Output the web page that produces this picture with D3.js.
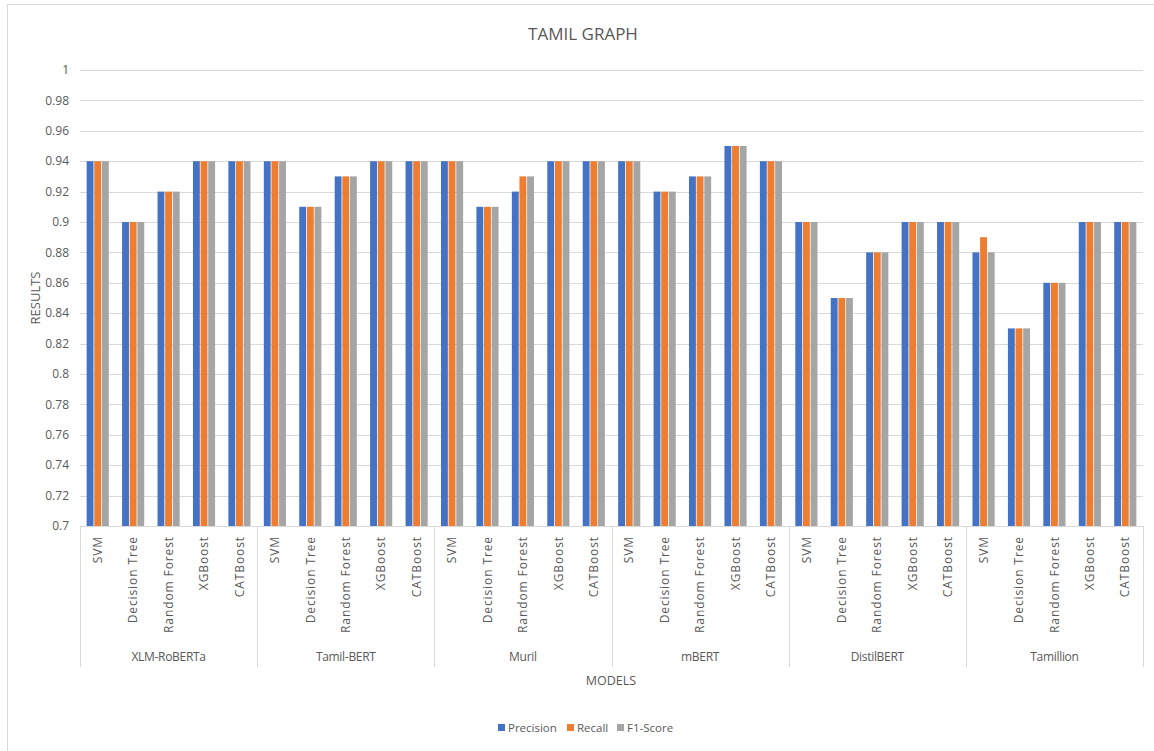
<!DOCTYPE html>
<html><head><meta charset="utf-8">
<script src="https://cdn.jsdelivr.net/npm/d3@7"></script>
<style>
html,body{margin:0;padding:0;background:#fff;}
text{font-family:"Open Sans",sans-serif;fill:#595959;}
</style></head>
<body>
<svg id="chart" width="1154" height="751"></svg>
<script>
const groups = ["XLM-RoBERTa","Tamil-BERT","Muril","mBERT","DistilBERT","Tamillion"];
const models = ["SVM","Decision Tree","Random Forest","XGBoost","CATBoost"];
const seriesNames = ["Precision","Recall","F1-Score"];
const colors = ["#4472C4","#ED7D31","#A5A5A5"];
// values per group, per model: [Precision, Recall, F1]
const xlmRoberta = [[0.94,0.94,0.94],[0.90,0.90,0.90],[0.92,0.92,0.92],[0.94,0.94,0.94],[0.94,0.94,0.94]];
const tamilBert  = [[0.94,0.94,0.94],[0.91,0.91,0.91],[0.93,0.93,0.93],[0.94,0.94,0.94],[0.94,0.94,0.94]];
const muril      = [[0.94,0.94,0.94],[0.91,0.91,0.91],[0.92,0.93,0.93],[0.94,0.94,0.94],[0.94,0.94,0.94]];
const mBert      = [[0.94,0.94,0.94],[0.92,0.92,0.92],[0.93,0.93,0.93],[0.95,0.95,0.95],[0.94,0.94,0.94]];
const distilBert = [[0.90,0.90,0.90],[0.85,0.85,0.85],[0.88,0.88,0.88],[0.90,0.90,0.90],[0.90,0.90,0.90]];
const tamillion  = [[0.88,0.89,0.88],[0.83,0.83,0.83],[0.86,0.86,0.86],[0.90,0.90,0.90],[0.90,0.90,0.90]];
const yTicks = [0.7,0.72,0.74,0.76,0.78,0.8,0.82,0.84,0.86,0.88,0.9,0.92,0.94,0.96,0.98,1];

const groupValues = [xlmRoberta,tamilBert,muril,mBert,distilBert,tamillion];
const rows = [];
groups.forEach((g,gi)=>models.forEach((m,mi)=>rows.push({key:g+"|"+m,group:g,model:m,vals:groupValues[gi][mi]})));

const svg = d3.select("#chart");
const L=80, R=1143, T=70, B=526;

// outer border
svg.append("rect").attr("x",7.5).attr("y",4.5).attr("width",1160).attr("height",760)
  .attr("fill","none").attr("stroke","#d9d9d9").attr("stroke-width",1);

const y = d3.scaleLinear().domain([0.7,1]).range([B,T]);
const x = d3.scaleBand().domain(rows.map(r=>r.key)).range([L,R]).paddingInner(0.375).paddingOuter(0.1875);
const xs = d3.scaleBand().domain(seriesNames).range([0,x.bandwidth()]).paddingInner(0.1);
const gx = d3.scaleBand().domain(groups).range([L,R]);

// gridlines
svg.append("g").selectAll("line").data(yTicks.slice(1)).join("line")
  .attr("x1",L).attr("x2",R).attr("y1",d=>Math.round(y(d))+0.5).attr("y2",d=>Math.round(y(d))+0.5)
  .attr("stroke","#d9d9d9").attr("stroke-width",1);

// y tick labels
svg.append("g").selectAll("text").data(yTicks).join("text")
  .attr("x",69).attr("y",d=>y(d)).attr("dy","0.35em").attr("text-anchor","end")
  .style("font-size","12px").text(d=>d3.format("")(+d.toFixed(2)));

// bars
const bars = svg.append("g");
rows.forEach(r=>{
  seriesNames.forEach((s,si)=>{
    bars.append("rect").attr("x",x(r.key)+xs(s)).attr("width",xs.bandwidth())
      .attr("y",y(r.vals[si])).attr("height",B-y(r.vals[si])).attr("fill",colors[si]);
  });
});

// x axis line
svg.append("line").attr("x1",L).attr("x2",R).attr("y1",B+0.5).attr("y2",B+0.5).attr("stroke","#d9d9d9");

// group separators
const seps = groups.map(g=>gx(g)).concat([R]);
svg.append("g").selectAll("line").data(seps).join("line")
  .attr("x1",d=>Math.round(d)+0.5).attr("x2",d=>Math.round(d)+0.5).attr("y1",B).attr("y2",667)
  .attr("stroke","#d9d9d9");

// model labels (rotated)
svg.append("g").selectAll("text").data(rows).join("text")
  .attr("transform",r=>`translate(${x(r.key)+x.bandwidth()/2},536) rotate(-90)`)
  .attr("text-anchor","end").attr("dy","0.35em")
  .style("font-size","12px").style("letter-spacing","0.9px").text(r=>r.model);

// group labels
svg.append("g").selectAll("text").data(groups).join("text")
  .attr("x",g=>gx(g)+gx.bandwidth()/2).attr("y",657).attr("dy","0.35em").attr("text-anchor","middle")
  .style("font-size","12px").style("letter-spacing","-0.3px").text(g=>g);

// titles
svg.append("text").attr("x",583).attr("y",34).attr("dy","0.35em").attr("text-anchor","middle")
  .style("font-size","17px").text("TAMIL GRAPH");
svg.append("text").attr("x",611).attr("y",681).attr("dy","0.35em").attr("text-anchor","middle")
  .style("font-size","12.5px").text("MODELS");
svg.append("text").attr("transform","translate(35,298) rotate(-90)").attr("dy","0.35em").attr("text-anchor","middle")
  .style("font-size","13px").text("RESULTS");

// legend
const legendX = [498,567,617];
const lg = svg.append("g");
seriesNames.forEach((s,i)=>{
  lg.append("rect").attr("x",legendX[i]).attr("y",724).attr("width",7).attr("height",7).attr("fill",colors[i]);
  lg.append("text").attr("x",legendX[i]+10).attr("y",728).attr("dy","0.35em").style("font-size","11.5px").text(s);
});
</script>
</body></html>
